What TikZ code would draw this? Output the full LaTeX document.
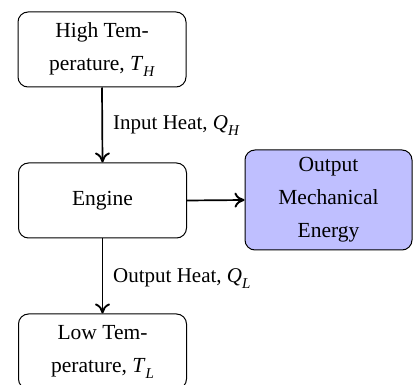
\documentclass[tikz,border=0pt]{standalone}
\usepackage{fontspec}
\setmainfont{Liberation Serif}
\usetikzlibrary{arrows.meta}
\newcommand{\itsub}[2]{\textit{#1}\raisebox{-0.28em}{\fontsize{15}{15}\selectfont\textit{#2}}}
\tikzset{
  box/.style={draw=black, line width=1pt, rounded corners=10pt, minimum width=168pt, minimum height=75pt, align=center, inner sep=0pt,
    font=\fontsize{21.5}{33}\selectfont},
  outbox/.style={box, fill=blue!25, minimum width=167pt, minimum height=100pt},
  flow/.style={line width=1.7pt, -{To[length=10pt,width=15pt,line width=1.9pt]}},
  lbl/.style={anchor=base west, inner sep=0pt, font=\fontsize{21}{24}\selectfont}
}
\begin{document}
\begin{tikzpicture}[x=1pt,y=1pt]
\useasboundingbox (0,0) rectangle (413,-385);
\node[box] (hot) at (102,-49.5) {High Tem-\\perature, \itsub{T}{H}};
\node[box] (eng) at (102.5,-200.5) {Engine};
\node[outbox] (out) at (328.5,-200) {Output\\Mechanical\\Energy};
\node[box] (cold) at (102.5,-351.5) {Low Tem-\\perature, \itsub{T}{L}};
\draw[flow] (hot.south) -- (eng.north);
\draw[flow] (eng.east) -- (out.west);
\draw[flow] (eng.south) -- (cold.north);
\node[lbl] (lin) at (113,-130) {Input Heat, \itsub{Q}{H}};
\node[lbl] (lout) at (113,-283) {Output Heat, \itsub{Q}{L}};
\end{tikzpicture}
\end{document}
